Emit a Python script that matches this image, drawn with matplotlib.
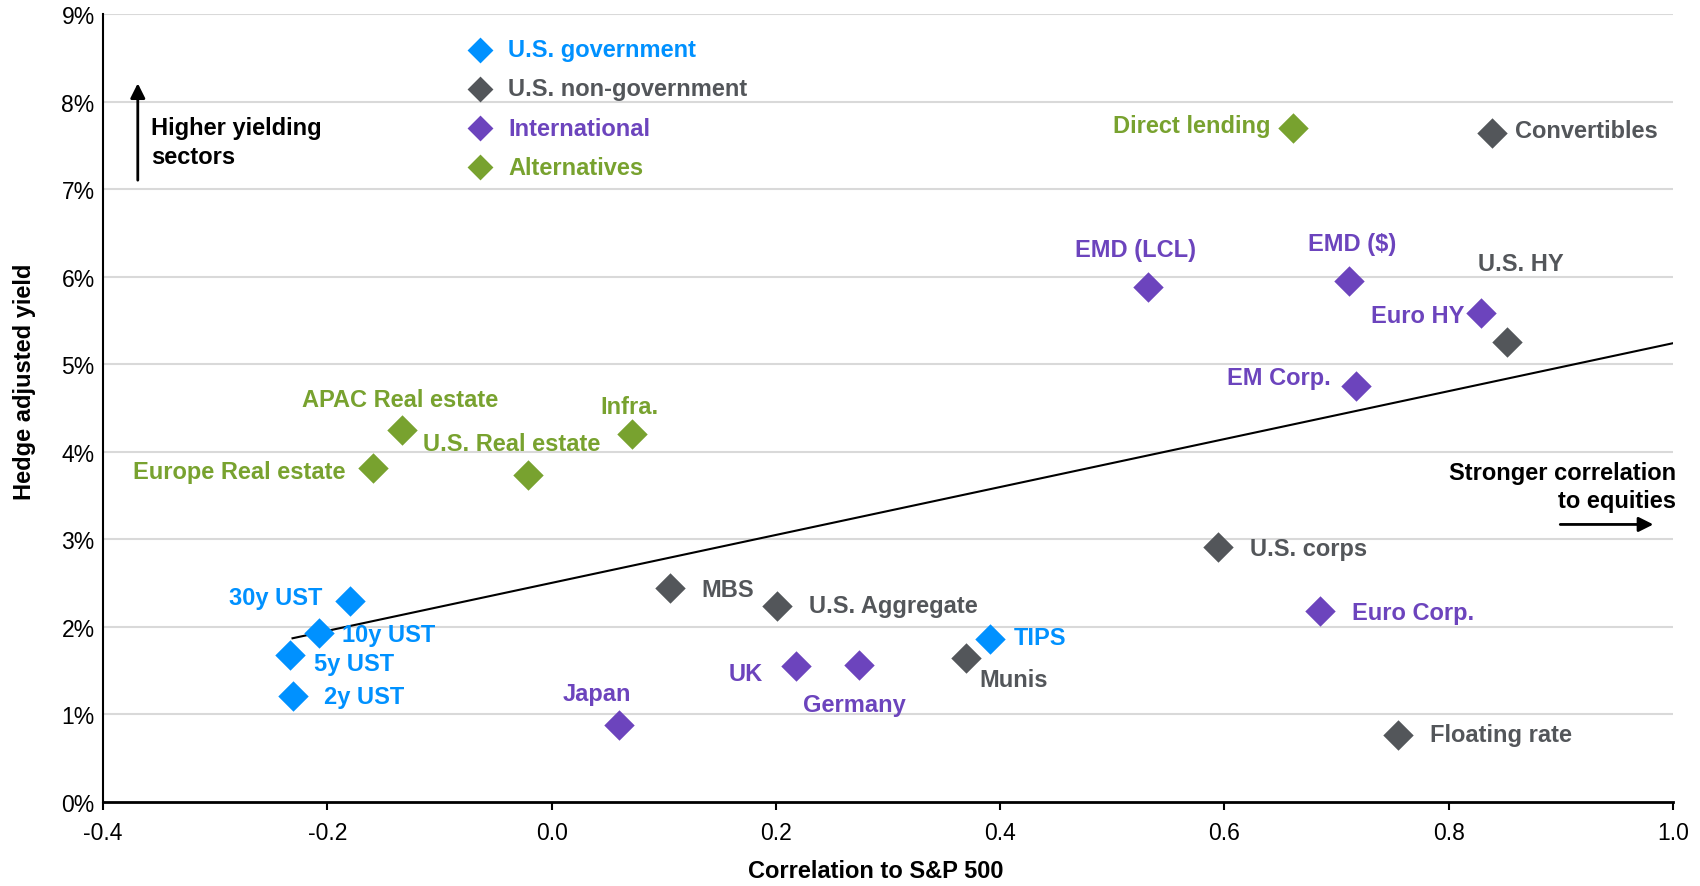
import matplotlib
matplotlib.use("Agg")
import matplotlib.pyplot as plt
from matplotlib.ticker import FuncFormatter, MultipleLocator

plt.rcParams['font.family'] = ['Liberation Sans', 'DejaVu Sans']

# --- data (correlation to S&P 500, hedge adjusted yield %) ---
gov_names = ["30y UST", "10y UST", "5y UST", "2y UST", "TIPS"]
gov_x = [-0.180, -0.207, -0.233, -0.231, 0.391]
gov_y = [2.30, 1.93, 1.68, 1.21, 1.86]

nongov_names = ["MBS", "U.S. Aggregate", "Munis", "U.S. corps", "Floating rate", "U.S. HY", "Convertibles"]
nongov_x = [0.106, 0.201, 0.370, 0.594, 0.755, 0.852, 0.839]
nongov_y = [2.44, 2.24, 1.65, 2.91, 0.77, 5.25, 7.64]

intl_names = ["Japan", "UK", "Germany", "Euro Corp.", "EMD (LCL)", "EMD ($)", "Euro HY", "EM Corp."]
intl_x = [0.060, 0.218, 0.274, 0.685, 0.532, 0.711, 0.829, 0.717]
intl_y = [0.88, 1.55, 1.57, 2.18, 5.88, 5.95, 5.59, 4.75]

alt_names = ["Europe Real estate", "APAC Real estate", "U.S. Real estate", "Infra.", "Direct lending"]
alt_x = [-0.159, -0.133, -0.021, 0.072, 0.661]
alt_y = [3.81, 4.25, 3.73, 4.20, 7.70]

trend_x = [-0.231, 1.0]
trend_y = [1.87, 5.24]

groups = [
    ("U.S. government", gov_names, gov_x, gov_y, "#0091FF"),
    ("U.S. non-government", nongov_names, nongov_x, nongov_y, "#53565A"),
    ("International", intl_names, intl_x, intl_y, "#6C44BD"),
    ("Alternatives", alt_names, alt_x, alt_y, "#78A22F"),
]

# label placement: offset in points and horizontal alignment
label_pos = {
    "30y UST": (-20, 2, "right"),
    "10y UST": (16, -1, "left"),
    "5y UST": (17, -6, "left"),
    "2y UST": (23, 0, "left"),
    "TIPS": (17, 1, "left"),
    "MBS": (22, -1, "left"),
    "U.S. Aggregate": (23, 0, "left"),
    "Munis": (9, -16, "left"),
    "U.S. corps": (23, -1, "left"),
    "Floating rate": (23, 0, "left"),
    "U.S. HY": (10, 57, "center"),
    "Convertibles": (16, 2, "left"),
    "Japan": (-16, 23, "center"),
    "UK": (-24, -5, "right"),
    "Germany": (-3, -29, "center"),
    "Euro Corp.": (23, -1, "left"),
    "EMD (LCL)": (-9, 27, "center"),
    "EMD ($)": (2, 27, "center"),
    "Euro HY": (-12, -2, "right"),
    "EM Corp.": (-18, 6, "right"),
    "Europe Real estate": (-20, -2, "right"),
    "APAC Real estate": (-2, 22, "center"),
    "U.S. Real estate": (-12, 23, "center"),
    "Infra.": (-2, 20, "center"),
    "Direct lending": (-16, 2, "right"),
}

fig = plt.figure(figsize=(17, 8.87), dpi=100)
ax = fig.add_axes([0.0606, 0.0947, 0.9235, 0.8884])

for yv in range(1, 10):
    ax.axhline(yv, color="#D9D9D9", lw=1.5, zorder=0)

ax.plot(trend_x, trend_y, color="black", lw=1.5, zorder=2)

for gname, names, xs, ys, col in groups:
    ax.scatter(xs, ys, marker="D", s=240, color=col, label=gname, zorder=3, linewidths=0)
    for n, xv, yv in zip(names, xs, ys):
        dx, dy, ha = label_pos[n]
        ax.annotate(n, (xv, yv), xytext=(dx, dy), textcoords="offset points",
                    ha=ha, va="center", fontsize=17, fontweight="bold", color=col)

leg = ax.legend(loc="upper left", bbox_to_anchor=(0.2325, 0.969), frameon=False,
                handlelength=1, handletextpad=0.7, labelspacing=0.68,
                borderpad=0, borderaxespad=0, markerscale=0.85,
                labelcolor="markerfacecolor", prop={"weight": "bold", "size": 17})

# direction notes
ax.annotate("", xy=(-0.369, 8.24), xytext=(-0.369, 7.07),
            arrowprops=dict(arrowstyle="-|>", lw=2, color="black", mutation_scale=22))
ax.text(-0.357, 7.54, "Higher yielding\nsectors", ha="left", va="center",
        fontsize=17, fontweight="bold", color="black", linespacing=1.3)
ax.text(1.003, 3.60, "Stronger correlation\nto equities", ha="right", va="center",
        fontsize=17, fontweight="bold", color="black", linespacing=1.3)
ax.annotate("", xy=(0.985, 3.17), xytext=(0.897, 3.17),
            arrowprops=dict(arrowstyle="-|>", lw=2, color="black", mutation_scale=22))

ax.set_xlim(-0.4, 1.0)
ax.set_ylim(0, 9)
ax.xaxis.set_major_locator(MultipleLocator(0.2))
ax.yaxis.set_major_locator(MultipleLocator(1))
ax.xaxis.set_major_formatter(FuncFormatter(lambda v, p: f"{v:.1f}"))
ax.yaxis.set_major_formatter(FuncFormatter(lambda v, p: f"{v:.0f}%"))
ax.tick_params(axis="x", direction="out", length=6, width=1.5, labelsize=16.5, pad=8)
ax.tick_params(axis="y", length=0, labelsize=16.5, pad=6)

for s in ["top", "right"]:
    ax.spines[s].set_visible(False)
ax.spines["left"].set_linewidth(1.5)
ax.spines["bottom"].set_linewidth(2)

ax.set_xlabel("Correlation to S&P 500", fontsize=17, fontweight="bold")
ax.set_ylabel("Hedge adjusted yield", fontsize=17, fontweight="bold")
ax.xaxis.set_label_coords(0.492, -0.072)
ax.yaxis.set_label_coords(-0.043, 0.535)

fig.savefig("out.png", dpi=100)
